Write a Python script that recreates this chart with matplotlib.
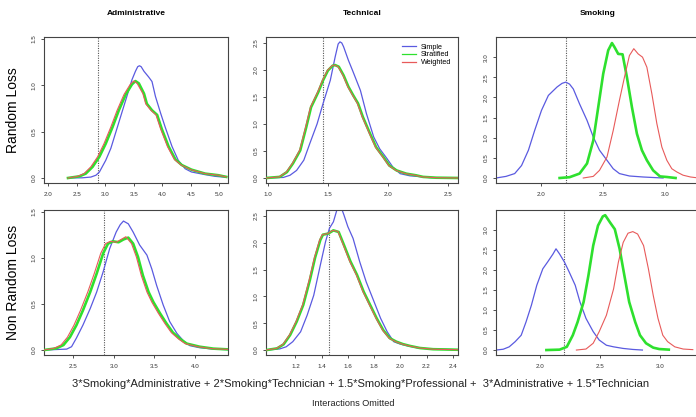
import matplotlib
matplotlib.use("Agg")
import matplotlib.pyplot as plt
from matplotlib.lines import Line2D

plt.rcParams['font.family'] = ['Liberation Sans', 'DejaVu Sans']

# ---------------- data ----------------
col_titles = ["Administrative", "Technical", "Smoking"]
row_labels = ["Random Loss", "Non Random Loss"]
legend_labels = ["Simple", "Stratified", "Weighted"]
true_values = [2.88, 1.46, 2.20]
xlabel_1 = "3*Smoking*Administrative + 2*Smoking*Technician + 1.5*Smoking*Professional +  3*Administrative + 1.5*Technician"
xlabel_2 = "Interactions Omitted"

# Random loss - Administrative
adm_rl_simple_x = [2.35, 2.6, 2.75, 2.84, 2.90, 3.01, 3.10, 3.18, 3.27, 3.36, 3.47, 3.53, 3.57, 3.60, 3.63, 3.68, 3.76, 3.82, 3.88, 3.97, 4.05, 4.17, 4.28, 4.40, 4.51, 4.75, 4.92, 5.12]
adm_rl_simple_y = [0.0, 0.002, 0.01, 0.03, 0.065, 0.19, 0.32, 0.48, 0.66, 0.84, 1.06, 1.15, 1.20, 1.21, 1.20, 1.15, 1.09, 1.04, 0.88, 0.70, 0.55, 0.34, 0.19, 0.10, 0.065, 0.036, 0.018, 0.007]
adm_rl_strat_x = [2.35, 2.55, 2.66, 2.78, 2.90, 3.01, 3.13, 3.24, 3.36, 3.47, 3.53, 3.59, 3.68, 3.73, 3.82, 3.91, 3.99, 4.11, 4.23, 4.34, 4.51, 4.75, 4.98, 5.12]
adm_rl_strat_y = [0.0, 0.018, 0.047, 0.12, 0.23, 0.37, 0.55, 0.73, 0.90, 1.01, 1.045, 1.02, 0.91, 0.80, 0.73, 0.68, 0.53, 0.34, 0.20, 0.14, 0.09, 0.047, 0.03, 0.012]
adm_rl_weight_x = [2.35, 2.52, 2.63, 2.75, 2.87, 2.98, 3.10, 3.21, 3.33, 3.44, 3.50, 3.56, 3.66, 3.71, 3.80, 3.89, 3.97, 4.09, 4.21, 4.33, 4.50, 4.75, 4.98, 5.12]
adm_rl_weight_y = [0.0, 0.018, 0.047, 0.12, 0.23, 0.37, 0.55, 0.73, 0.90, 1.01, 1.045, 1.02, 0.91, 0.80, 0.73, 0.68, 0.53, 0.34, 0.20, 0.14, 0.09, 0.047, 0.03, 0.012]

# Random loss - Technical
tec_rl_simple_x = [0.99, 1.13, 1.185, 1.24, 1.30, 1.35, 1.41, 1.46, 1.52, 1.56, 1.585, 1.60, 1.615, 1.63, 1.67, 1.71, 1.77, 1.82, 1.88, 1.93, 1.99, 2.04, 2.10, 2.18, 2.26, 2.35, 2.58]
tec_rl_simple_y = [0.0, 0.01, 0.05, 0.14, 0.33, 0.64, 1.0, 1.38, 1.81, 2.24, 2.48, 2.52, 2.50, 2.43, 2.18, 1.96, 1.62, 1.19, 0.76, 0.54, 0.36, 0.20, 0.08, 0.04, 0.025, 0.006, 0.0]
tec_rl_strat_x = [0.99, 1.10, 1.16, 1.21, 1.27, 1.32, 1.36, 1.42, 1.46, 1.50, 1.54, 1.56, 1.59, 1.63, 1.67, 1.71, 1.75, 1.79, 1.85, 1.90, 1.96, 2.01, 2.07, 2.15, 2.23, 2.29, 2.40, 2.58]
tec_rl_strat_y = [0.0, 0.02, 0.11, 0.27, 0.51, 0.94, 1.31, 1.59, 1.81, 1.99, 2.08, 2.09, 2.06, 1.90, 1.69, 1.53, 1.38, 1.13, 0.82, 0.57, 0.39, 0.23, 0.14, 0.08, 0.05, 0.02, 0.005, 0.0]
tec_rl_weight_x = [0.99, 1.095, 1.155, 1.205, 1.265, 1.315, 1.355, 1.415, 1.455, 1.495, 1.535, 1.555, 1.585, 1.625, 1.665, 1.705, 1.745, 1.785, 1.845, 1.895, 1.955, 2.005, 2.065, 2.145, 2.225, 2.285, 2.40, 2.58]
tec_rl_weight_y = [0.0, 0.02, 0.11, 0.27, 0.51, 0.94, 1.31, 1.59, 1.81, 1.99, 2.08, 2.09, 2.06, 1.90, 1.69, 1.53, 1.38, 1.13, 0.82, 0.57, 0.39, 0.23, 0.14, 0.08, 0.05, 0.02, 0.005, 0.0]

# Random loss - Smoking
smk_rl_simple_x = [1.64, 1.72, 1.79, 1.845, 1.90, 1.95, 2.005, 2.06, 2.13, 2.17, 2.20, 2.23, 2.26, 2.31, 2.37, 2.42, 2.47, 2.53, 2.58, 2.63, 2.71, 2.82, 2.98]
smk_rl_simple_y = [0.0, 0.04, 0.11, 0.31, 0.69, 1.18, 1.68, 2.05, 2.26, 2.35, 2.38, 2.33, 2.21, 1.84, 1.43, 1.02, 0.69, 0.44, 0.23, 0.11, 0.05, 0.025, 0.0]
smk_rl_strat_x = [2.15, 2.23, 2.31, 2.37, 2.42, 2.46, 2.50, 2.54, 2.57, 2.59, 2.62, 2.655, 2.69, 2.73, 2.77, 2.81, 2.85, 2.90, 2.955, 3.01, 3.08]
smk_rl_strat_y = [0.0, 0.02, 0.11, 0.36, 0.93, 1.76, 2.59, 3.17, 3.35, 3.25, 3.08, 3.07, 2.50, 1.76, 1.10, 0.69, 0.44, 0.19, 0.04, 0.025, 0.0]
smk_rl_weight_x = [2.34, 2.42, 2.47, 2.53, 2.58, 2.63, 2.67, 2.71, 2.745, 2.78, 2.815, 2.85, 2.89, 2.93, 2.97, 3.01, 3.05, 3.09, 3.14, 3.20, 3.24]
smk_rl_weight_y = [0.0, 0.04, 0.19, 0.52, 1.18, 1.93, 2.50, 3.04, 3.21, 3.08, 3.0, 2.75, 2.09, 1.35, 0.77, 0.44, 0.23, 0.15, 0.07, 0.025, 0.01]

# Non random loss - Administrative
adm_nr_simple_x = [2.14, 2.42, 2.48, 2.54, 2.62, 2.71, 2.79, 2.87, 2.95, 3.03, 3.08, 3.12, 3.18, 3.24, 3.32, 3.41, 3.47, 3.53, 3.61, 3.69, 3.78, 3.86, 3.94, 4.06, 4.23, 4.41]
adm_nr_simple_y = [0.0, 0.01, 0.036, 0.13, 0.27, 0.45, 0.63, 0.85, 1.10, 1.28, 1.36, 1.40, 1.37, 1.28, 1.14, 1.03, 0.88, 0.70, 0.49, 0.31, 0.18, 0.10, 0.047, 0.025, 0.01, 0.004]
adm_nr_strat_x = [2.14, 2.29, 2.38, 2.46, 2.54, 2.62, 2.71, 2.79, 2.87, 2.93, 2.99, 3.06, 3.12, 3.18, 3.24, 3.30, 3.36, 3.43, 3.49, 3.57, 3.65, 3.73, 3.82, 3.90, 4.06, 4.23, 4.41]
adm_nr_strat_y = [0.0, 0.018, 0.054, 0.14, 0.27, 0.43, 0.63, 0.83, 1.05, 1.155, 1.18, 1.17, 1.20, 1.22, 1.155, 1.01, 0.81, 0.63, 0.52, 0.40, 0.29, 0.19, 0.12, 0.07, 0.036, 0.015, 0.007]
adm_nr_weight_x = [2.14, 2.26, 2.35, 2.43, 2.51, 2.59, 2.68, 2.76, 2.84, 2.90, 2.96, 3.03, 3.09, 3.15, 3.22, 3.28, 3.34, 3.41, 3.47, 3.55, 3.63, 3.71, 3.80, 3.88, 4.04, 4.21, 4.41]
adm_nr_weight_y = [0.0, 0.018, 0.054, 0.14, 0.27, 0.43, 0.63, 0.83, 1.05, 1.155, 1.18, 1.17, 1.20, 1.23, 1.155, 1.01, 0.81, 0.63, 0.52, 0.40, 0.29, 0.19, 0.12, 0.07, 0.036, 0.015, 0.007]

# Non random loss - Technical
tec_nr_simple_x = [0.98, 1.08, 1.13, 1.18, 1.24, 1.29, 1.34, 1.39, 1.43, 1.46, 1.49, 1.52, 1.54, 1.57, 1.60, 1.64, 1.69, 1.74, 1.80, 1.85, 1.90, 1.95, 2.00, 2.05, 2.13, 2.23, 2.44]
tec_nr_simple_y = [0.0, 0.02, 0.06, 0.155, 0.34, 0.65, 1.02, 1.58, 2.02, 2.27, 2.39, 2.64, 2.72, 2.52, 2.30, 2.08, 1.65, 1.27, 0.90, 0.59, 0.34, 0.155, 0.11, 0.08, 0.04, 0.02, 0.005]
tec_nr_strat_x = [0.98, 1.06, 1.11, 1.16, 1.21, 1.26, 1.31, 1.35, 1.39, 1.41, 1.45, 1.49, 1.53, 1.57, 1.62, 1.67, 1.72, 1.77, 1.82, 1.87, 1.92, 1.97, 2.02, 2.075, 2.15, 2.25, 2.44]
tec_nr_strat_y = [0.0, 0.03, 0.105, 0.28, 0.53, 0.84, 1.30, 1.72, 2.05, 2.15, 2.17, 2.23, 2.20, 1.96, 1.65, 1.40, 1.09, 0.84, 0.59, 0.37, 0.22, 0.155, 0.11, 0.075, 0.037, 0.015, 0.005]
tec_nr_weight_x = [0.98, 1.055, 1.105, 1.155, 1.205, 1.255, 1.305, 1.345, 1.385, 1.405, 1.445, 1.485, 1.525, 1.565, 1.615, 1.665, 1.715, 1.765, 1.815, 1.865, 1.915, 1.965, 2.015, 2.07, 2.15, 2.25, 2.44]
tec_nr_weight_y = [0.0, 0.03, 0.105, 0.28, 0.53, 0.84, 1.30, 1.72, 2.05, 2.15, 2.17, 2.23, 2.21, 1.96, 1.65, 1.40, 1.09, 0.84, 0.59, 0.37, 0.22, 0.155, 0.11, 0.075, 0.037, 0.015, 0.005]

# Non random loss - Smoking
smk_nr_simple_x = [1.63, 1.69, 1.74, 1.79, 1.84, 1.88, 1.925, 1.97, 2.02, 2.06, 2.105, 2.13, 2.16, 2.20, 2.24, 2.29, 2.33, 2.38, 2.44, 2.49, 2.55, 2.61, 2.69, 2.77, 2.85]
smk_nr_simple_y = [0.0, 0.02, 0.08, 0.21, 0.37, 0.70, 1.12, 1.62, 2.03, 2.20, 2.40, 2.53, 2.40, 2.20, 1.95, 1.62, 1.20, 0.79, 0.46, 0.25, 0.12, 0.08, 0.04, 0.015, 0.0]
smk_nr_strat_x = [2.05, 2.16, 2.22, 2.27, 2.31, 2.36, 2.40, 2.44, 2.48, 2.52, 2.54, 2.58, 2.62, 2.66, 2.70, 2.74, 2.79, 2.83, 2.88, 2.94, 2.99, 3.07]
smk_nr_strat_y = [0.0, 0.01, 0.08, 0.37, 0.70, 1.20, 1.86, 2.61, 3.11, 3.34, 3.37, 3.19, 3.02, 2.53, 1.86, 1.20, 0.70, 0.37, 0.17, 0.06, 0.025, 0.01]
smk_nr_weight_x = [2.30, 2.38, 2.44, 2.49, 2.55, 2.61, 2.65, 2.69, 2.73, 2.77, 2.81, 2.86, 2.90, 2.94, 2.98, 3.02, 3.06, 3.12, 3.19, 3.27]
smk_nr_weight_y = [0.0, 0.025, 0.17, 0.46, 0.87, 1.53, 2.20, 2.69, 2.92, 2.96, 2.90, 2.61, 2.03, 1.37, 0.79, 0.37, 0.21, 0.08, 0.025, 0.01]

curves = [
    [((adm_rl_simple_x, adm_rl_simple_y), (adm_rl_strat_x, adm_rl_strat_y), (adm_rl_weight_x, adm_rl_weight_y)),
     ((tec_rl_simple_x, tec_rl_simple_y), (tec_rl_strat_x, tec_rl_strat_y), (tec_rl_weight_x, tec_rl_weight_y)),
     ((smk_rl_simple_x, smk_rl_simple_y), (smk_rl_strat_x, smk_rl_strat_y), (smk_rl_weight_x, smk_rl_weight_y))],
    [((adm_nr_simple_x, adm_nr_simple_y), (adm_nr_strat_x, adm_nr_strat_y), (adm_nr_weight_x, adm_nr_weight_y)),
     ((tec_nr_simple_x, tec_nr_simple_y), (tec_nr_strat_x, tec_nr_strat_y), (tec_nr_weight_x, tec_nr_weight_y)),
     ((smk_nr_simple_x, smk_nr_simple_y), (smk_nr_strat_x, smk_nr_strat_y), (smk_nr_weight_x, smk_nr_weight_y))],
]

x_ticks = [
    [[2.0, 2.5, 3.0, 3.5, 4.0, 4.5, 5.0], [1.0, 1.5, 2.0, 2.5], [2.0, 2.5, 3.0]],
    [[2.5, 3.0, 3.5, 4.0], [1.2, 1.4, 1.6, 1.8, 2.0, 2.2, 2.4], [2.0, 2.5, 3.0]],
]
y_ticks = [[0.0, 0.5, 1.0, 1.5], [0.0, 0.5, 1.0, 1.5, 2.0, 2.5], [0.0, 0.5, 1.0, 1.5, 2.0, 2.5, 3.0]]

# ---------------- layout / style ----------------
W, H = 696, 417
xlims = [
    [(1.93, 5.15), (0.986, 2.58), (1.64, 3.276)],
    [(2.14, 4.41), (0.976, 2.44), (1.63, 3.33)],
]
ylims = [(-0.054, 1.52), (-0.093, 2.61), (-0.124, 3.5)]
col_px = [(44, 228), (266, 458), (496, 700)]
row_px = [(37, 183), (210, 355)]

colors = ['#5a5ae0', '#2ee02e', '#e85a5a']
widths = [0.9, 1.9, 0.8]

fig = plt.figure(figsize=(W / 100, H / 100), dpi=100)

for r in range(2):
    for c in range(3):
        x0, x1 = col_px[c]
        y0, y1 = row_px[r]
        ax = fig.add_axes([x0 / W, 1 - y1 / H, (x1 - x0) / W, (y1 - y0) / H])
        for k, (xs, ys) in enumerate(curves[r][c]):
            ax.plot(xs, ys, color=colors[k], lw=widths[k], label=legend_labels[k],
                    solid_joinstyle='round', zorder=2 + k)
        ax.axvline(true_values[c], color='#555555', lw=0.8, ls=(0, (1, 1.2)), zorder=1)
        ax.set_xlim(*xlims[r][c])
        ax.set_ylim(*ylims[c])
        ax.set_xticks(x_ticks[r][c])
        ax.set_xticklabels([f"{v:.1f}" for v in x_ticks[r][c]])
        ax.set_yticks(y_ticks[c])
        ax.set_yticklabels([f"{v:.1f}" for v in y_ticks[c]], rotation=90, va='center')
        ax.tick_params(axis='both', labelsize=4.5, length=2.5, width=0.6,
                       colors='#333333', pad=4)
        ax.tick_params(axis='y', pad=3)
        for s in ax.spines.values():
            s.set_color('#444444')
            s.set_linewidth(0.8)
        if r == 0:
            ax.set_title(col_titles[c], fontsize=6, fontweight='bold', pad=15.5)
        if c == 0:
            ax.set_ylabel(row_labels[r], fontsize=10, labelpad=8)
        if r == 0 and c == 1:
            handles = [Line2D([], [], color=colors[k], lw=0.9) for k in range(3)]
            ax.legend(handles, legend_labels, loc='upper right', frameon=False, fontsize=5.2,
                      handlelength=1.9, handletextpad=0.7, labelspacing=0.12,
                      borderaxespad=0.5)

fig.text(361 / W, 1 - 384 / H, xlabel_1, ha='center', va='center', fontsize=8.0, color='#222222')
fig.text(353 / W, 1 - 404 / H, xlabel_2, ha='center', va='center', fontsize=6.6, color='#222222')

fig.savefig("out.png", dpi=100)
